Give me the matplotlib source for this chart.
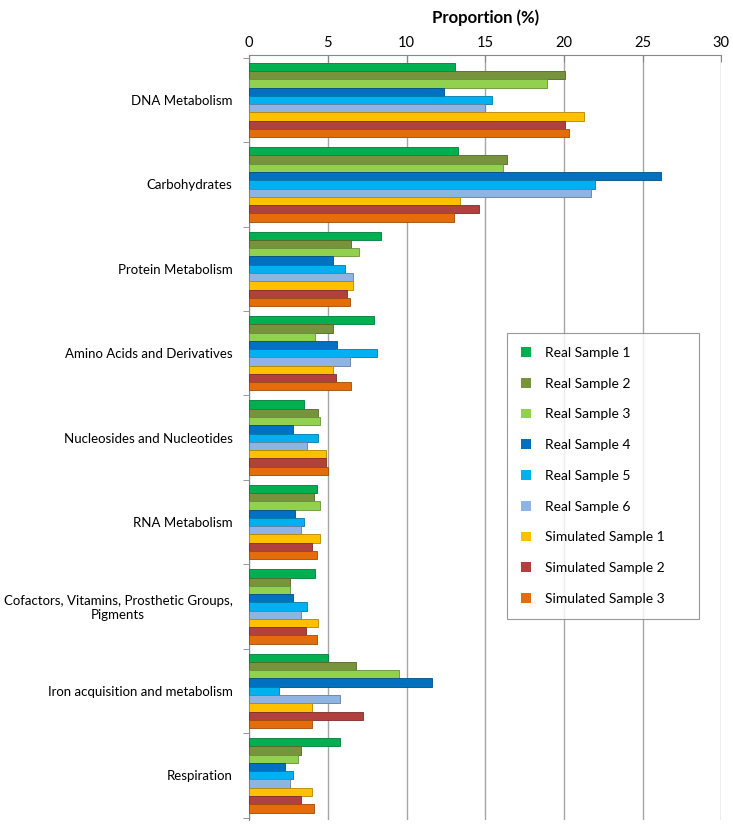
import matplotlib
matplotlib.use("Agg")
import matplotlib.pyplot as plt
import numpy as np
from matplotlib.patches import Patch
import matplotlib.colors as mcolors

plt.rcParams['font.family'] = ['Lato', 'DejaVu Sans']

categories = ["DNA Metabolism", "Carbohydrates", "Protein Metabolism",
              "Amino Acids and Derivatives", "Nucleosides and Nucleotides",
              "RNA Metabolism", "Cofactors, Vitamins, Prosthetic Groups,\nPigments",
              "Iron acquisition and metabolism", "Respiration"]

series_names = ["Real Sample 1", "Real Sample 2", "Real Sample 3", "Real Sample 4",
                "Real Sample 5", "Real Sample 6", "Simulated Sample 1",
                "Simulated Sample 2", "Simulated Sample 3"]

real1 = [13.1, 13.3, 8.4, 7.9, 3.5, 4.3, 4.2, 5.0, 5.8]
real2 = [20.1, 16.4, 6.5, 5.3, 4.4, 4.1, 2.6, 6.8, 3.3]
real3 = [18.9, 16.1, 7.0, 4.2, 4.5, 4.5, 2.6, 9.5, 3.1]
real4 = [12.4, 26.2, 5.3, 5.6, 2.8, 2.9, 2.8, 11.6, 2.3]
real5 = [15.4, 22.0, 6.1, 8.1, 4.4, 3.5, 3.7, 1.9, 2.8]
real6 = [15.0, 21.7, 6.6, 6.4, 3.7, 3.3, 3.3, 5.8, 2.6]
sim1 = [21.3, 13.4, 6.6, 5.3, 4.9, 4.5, 4.4, 4.0, 4.0]
sim2 = [20.1, 14.6, 6.2, 5.5, 4.9, 4.0, 3.6, 7.2, 3.3]
sim3 = [20.3, 13.0, 6.4, 6.5, 5.0, 4.3, 4.3, 4.0, 4.1]

series = [real1, real2, real3, real4, real5, real6, sim1, sim2, sim3]
colors = ["#00B050", "#77933C", "#92D050", "#0070C0", "#00B0F0", "#8DB4E2",
          "#FFC000", "#B0413E", "#E46C0A"]

fig = plt.figure(figsize=(7.33, 8.25), dpi=100)
ax = fig.add_axes([0.340, 0.006, 0.644, 0.927])

n = len(series)
bh = 0.098
y = np.arange(len(categories))
for k, (vals, c) in enumerate(zip(series, colors)):
    off = (k - (n - 1) / 2) * bh
    dark = tuple(np.array(mcolors.to_rgb(c)) * 0.7)
    ax.barh(y + off, vals, height=bh, color=c, edgecolor=dark, linewidth=0.6,
            zorder=3, label=series_names[k])

ax.set_xlim(0, 30)
ax.set_ylim(8.53, -0.53)
ax.set_xticks(np.arange(0, 31, 5))
ax.xaxis.tick_top()
ax.xaxis.set_label_position('top')
ax.set_xlabel("Proportion (%)", fontsize=12, fontweight='bold', labelpad=9)
ax.tick_params(axis='x', length=5, color='#888888', labelsize=10.5, pad=4, direction='in')
ax.grid(axis='x', color='#A6A6A6', linewidth=1.0, zorder=0)

ax.set_yticks(y)
ax.set_yticklabels(categories, fontsize=9.5, multialignment='center')
ax.tick_params(axis='y', length=0, pad=12)
ax.set_yticks(np.arange(-0.5, len(categories), 1), minor=True)
ax.tick_params(axis='y', which='minor', length=4, color='#888888', direction='out')

for s in ['right', 'bottom']:
    ax.spines[s].set_visible(False)
ax.spines['top'].set_color('#888888')
ax.spines['left'].set_color('#888888')

handles = [Patch(facecolor=c, edgecolor='none') for c in colors]
leg = ax.legend(handles, series_names, loc='upper left',
                bbox_to_anchor=(0.547, 0.637 - 0.38, 0.405, 0.38), mode='expand',
                fontsize=10, frameon=True, fancybox=False, edgecolor='#808080',
                handlelength=0.7, handleheight=0.7, labelspacing=1.35,
                borderpad=1.0, handletextpad=1.0, borderaxespad=0)
leg.get_frame().set_linewidth(0.8)

fig.savefig("out.png", dpi=100)
